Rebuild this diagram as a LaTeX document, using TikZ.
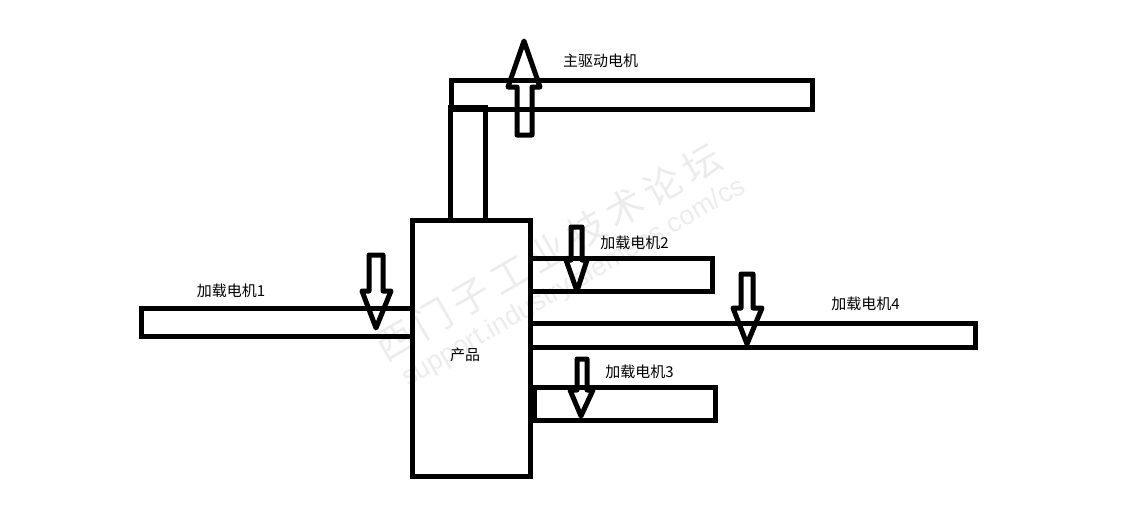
\documentclass[tikz,border=0pt]{standalone}
\usepackage{fontspec}
\setmainfont{Noto Sans CJK SC}
\newfontfamily\markfont{Liberation Sans}
\usepackage{tikz}
\usetikzlibrary{calc}
\definecolor{wmark}{HTML}{ECECEC}

\begin{document}
\begin{tikzpicture}[x=1pt,y=-1pt,
  part/.style={draw,line width=5pt},
  flow/.style={draw,line width=5pt,line join=round},
  lbl/.style={font=\fontsize{15}{16}\selectfont,inner sep=0pt},
  wm/.style={text=wmark,rotate=30,inner sep=0pt}]
\useasboundingbox (0,0) rectangle (1121,523);
% watermark
\node[wm,font=\fontsize{38}{40}\selectfont] (wmcn) at (548,252) {西\,门\,子\,工\,业\,技\,术\,论\,坛};
\node[wm,font=\markfont\fontsize{27}{29}\selectfont] (wmen) at (574,283) {support.industry.siemens.com/cs};
% parts
\path[part] (412.5,220.5) rectangle (530.5,476.5);
\path[part] (450.5,220.5) -- (450.5,107.5) -- (485.5,107.5) -- (485.5,220.5);
\path[part] (451,80.5) rectangle (812.5,109);
\path[part] (141.5,308.5) rectangle (412.5,336.5);
\path[part] (530.5,258.5) -- (712.5,258.5) -- (712.5,291.5) -- (530.5,291.5);
\path[part] (530.5,323.5) -- (975.5,323.5) -- (975.5,347.5) -- (530.5,347.5);
\path[part] (534.5,387.5) rectangle (715.5,420.5);
% arrows: shaft left, shaft right, far end, head left, head right, head base, tip x, tip y
\foreach \sl/\sr/\se/\hl/\hr/\hb/\tx/\ty in {
  369/383/255/362/391/291/376/328,
  571/582/227/566/587/260/577/291,
  741/753/274/733/762/308/747/344,
  577/587/359/570/593/390/581/416,
  517/532/135/508/540/87/524/41}
  \path[flow] (\sl,\se) -- (\sr,\se) -- (\sr,\hb) -- (\hr,\hb) -- (\tx,\ty) -- (\hl,\hb) -- (\sl,\hb) -- cycle;
% labels
\node[lbl] (mainlbl) at (600.5,61) {主驱动电机};
\node[lbl] (load1) at (231,291) {加载电机1};
\node[lbl] (load2) at (634.5,243) {加载电机2};
\node[lbl] (load3) at (639.5,372) {加载电机3};
\node[lbl] (load4) at (865.5,304) {加载电机4};
\node[lbl] (prod) at (465,355) {产品};
\end{tikzpicture}
\end{document}
